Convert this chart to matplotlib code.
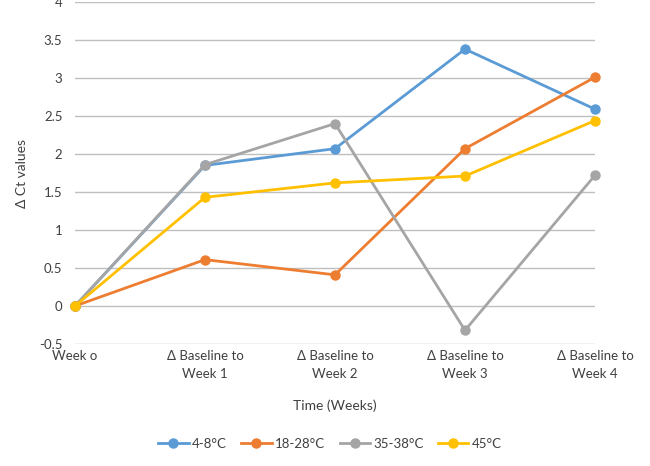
import numpy as np
import matplotlib
matplotlib.use("Agg")
import matplotlib.pyplot as plt

plt.rcParams['font.family'] = ['Lato', 'DejaVu Sans']

# categories on the x axis
categorias = ["Week o", "Δ Baseline to\nWeek 1", "Δ Baseline to\nWeek 2",
              "Δ Baseline to\nWeek 3", "Δ Baseline to\nWeek 4"]

# series
serie_4_8 = [0, 1.85, 2.07, 3.38, 2.59]
serie_18_28 = [0, 0.61, 0.41, 2.07, 3.01]
serie_35_38 = [0, 1.86, 2.40, -0.32, 1.72]
serie_45 = [0, 1.43, 1.62, 1.71, 2.44]

nomes = ["4-8°C", "18-28°C", "35-38°C", "45°C"]
cores = ["#5B9BD5", "#ED7D31", "#A5A5A5", "#FFC000"]

y_ticks = [-0.5, 0, 0.5, 1, 1.5, 2, 2.5, 3, 3.5, 4]

fig = plt.figure(figsize=(6.5, 4.66), dpi=100)
ax = fig.add_axes([75/650, 1-344/466, 520/650, 342/466])

x = np.arange(len(categorias))
for serie, nome, cor in zip([serie_4_8, serie_18_28, serie_35_38, serie_45], nomes, cores):
    ax.plot(x, serie, color=cor, linewidth=2.0, marker="o", markersize=6.5, label=nome,
            clip_on=False, zorder=3)

ax.set_xlim(0, len(categorias) - 1)
ax.set_ylim(-0.5, 4)
ax.set_yticks(y_ticks)
ax.set_yticklabels([f"{v:g}" for v in y_ticks], fontsize=9.5, color="#404040")
ax.set_xticks(x)
ax.set_xticklabels(categorias, fontsize=9.5, color="#404040", linespacing=1.6)
ax.tick_params(axis="y", length=0, pad=9)
ax.tick_params(axis="x", length=0, pad=4)
ax.grid(axis="y", color="#BFBFBF", linewidth=1)
ax.set_axisbelow(True)
for s in ax.spines.values():
    s.set_visible(False)

ax.set_ylabel("Δ Ct values", fontsize=10, color="#404040", labelpad=8)
ax.set_xlabel("Time (Weeks)", fontsize=10, color="#404040", labelpad=14)

ax.legend(loc="center", bbox_to_anchor=(255/520, -100/342), ncol=4, frameon=False,
          fontsize=9.5, handlelength=2.3, columnspacing=1.1, handletextpad=0.25,
          labelcolor="#404040")

fig.savefig("out.png", dpi=100)
